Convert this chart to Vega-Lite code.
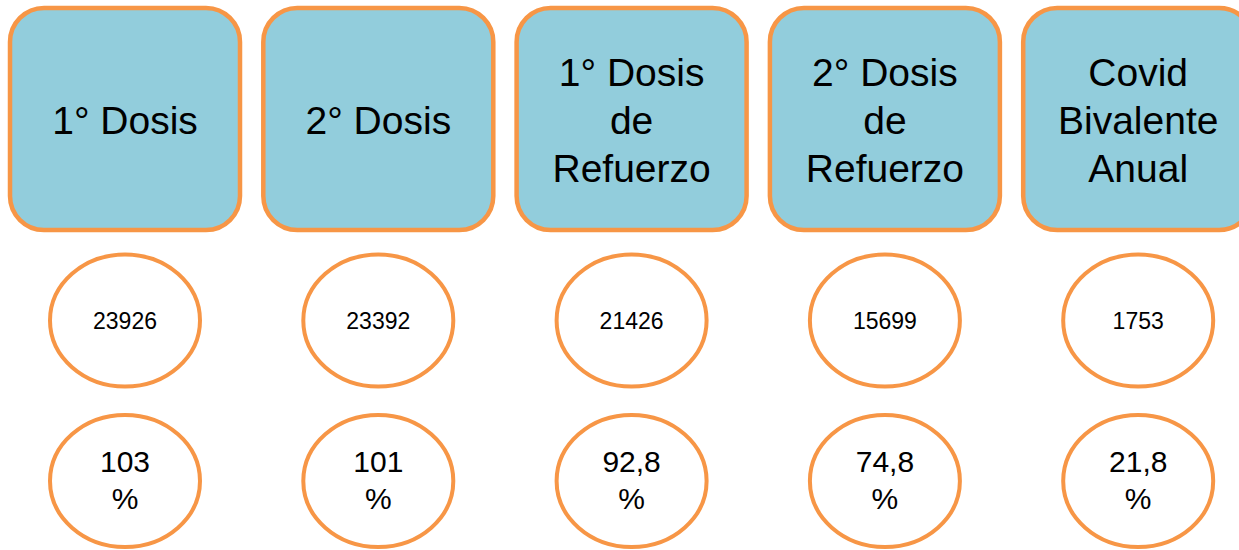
{
  "$schema": "https://vega.github.io/schema/vega-lite/v6.json",
  "width": 1239,
  "height": 550,
  "autosize": {"type": "none"},
  "padding": 0,
  "background": "white",
  "config": {"view": {"stroke": null}},
  "data": {
    "values": [
      {"categoria": "1° Dosis", "titulo": "\n1° Dosis\n", "dosis": 23926, "porcentaje": "103 %"},
      {"categoria": "2° Dosis", "titulo": "\n2° Dosis\n", "dosis": 23392, "porcentaje": "101 %"},
      {"categoria": "1° Dosis de Refuerzo", "titulo": "1° Dosis\nde\nRefuerzo", "dosis": 21426, "porcentaje": "92,8 %"},
      {"categoria": "2° Dosis de Refuerzo", "titulo": "2° Dosis\nde\nRefuerzo", "dosis": 15699, "porcentaje": "74,8 %"},
      {"categoria": "Covid Bivalente Anual", "titulo": "Covid\nBivalente\nAnual", "dosis": 1753, "porcentaje": "21,8 %"}
    ]
  },
  "encoding": {
    "x": {
      "field": "categoria",
      "type": "nominal",
      "axis": null,
      "scale": {
        "type": "band",
        "domain": ["1° Dosis", "2° Dosis", "1° Dosis de Refuerzo", "2° Dosis de Refuerzo", "Covid Bivalente Anual"],
        "range": [0, 1263.2],
        "paddingInner": 0.092,
        "paddingOuter": 0.0395
      }
    }
  },
  "layer": [
    {
      "mark": {"type": "rect", "fill": "#92CDDC", "stroke": "#F79646", "strokeWidth": 4.5, "cornerRadius": 34},
      "encoding": {
        "y": {"datum": 8, "type": "quantitative", "axis": null, "scale": {"domain": [0, 550], "range": [0, 550]}},
        "y2": {"datum": 230}
      }
    },
    {
      "mark": {"type": "text", "font": "Liberation Sans", "fontSize": 39, "lineHeight": 48, "lineBreak": "\n", "align": "center", "baseline": "middle", "color": "black"},
      "encoding": {
        "y": {"datum": 74, "type": "quantitative"},
        "text": {"field": "titulo", "type": "nominal"}
      }
    },
    {
      "mark": {"type": "point", "shape": "M 1 0 C 1 0.486 0.552 0.88 0 0.88 C -0.552 0.88 -1 0.486 -1 0 C -1 -0.486 -0.552 -0.88 0 -0.88 C 0.552 -0.88 1 -0.486 1 0 Z", "size": 22500, "filled": false, "fill": "white", "stroke": "#F79646", "strokeWidth": 4, "opacity": 1},
      "encoding": {
        "y": {"datum": 320.5, "type": "quantitative"}
      }
    },
    {
      "mark": {"type": "point", "shape": "M 1 0 C 1 0.486 0.552 0.88 0 0.88 C -0.552 0.88 -1 0.486 -1 0 C -1 -0.486 -0.552 -0.88 0 -0.88 C 0.552 -0.88 1 -0.486 1 0 Z", "size": 22500, "filled": false, "fill": "white", "stroke": "#F79646", "strokeWidth": 4, "opacity": 1},
      "encoding": {
        "y": {"datum": 481, "type": "quantitative"}
      }
    },
    {
      "mark": {"type": "text", "font": "Liberation Sans", "fontSize": 23, "align": "center", "baseline": "middle", "color": "black"},
      "encoding": {
        "y": {"datum": 322, "type": "quantitative"},
        "text": {"field": "dosis", "type": "quantitative", "format": "d"}
      }
    },
    {
      "mark": {"type": "text", "font": "Liberation Sans", "fontSize": 30, "lineHeight": 37, "lineBreak": " ", "align": "center", "baseline": "middle", "color": "black"},
      "encoding": {
        "y": {"datum": 463, "type": "quantitative"},
        "text": {"field": "porcentaje", "type": "nominal"}
      }
    }
  ]
}
